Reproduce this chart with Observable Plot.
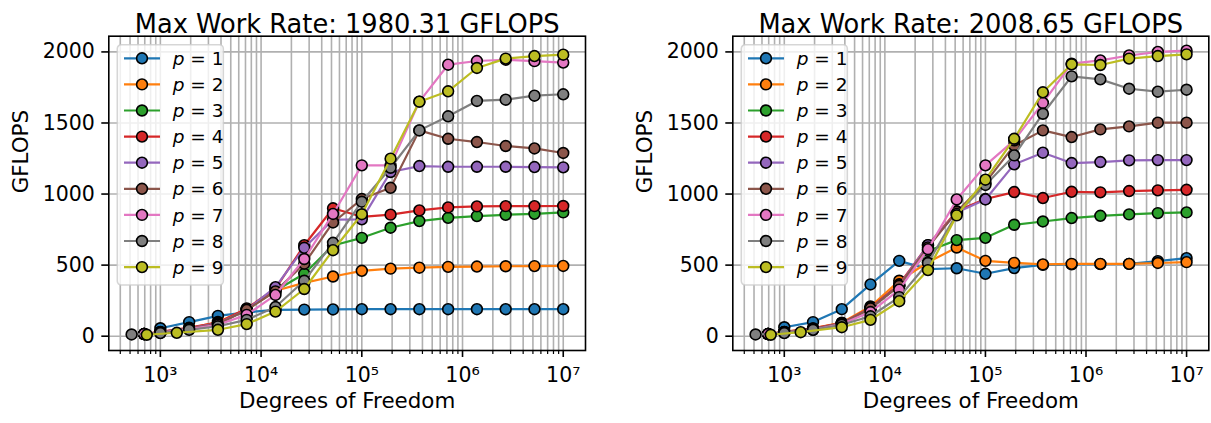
<!DOCTYPE html>
<html>
<head>
<meta charset="utf-8">
<script src="https://cdn.jsdelivr.net/npm/d3@7"></script>
<script src="https://cdn.jsdelivr.net/npm/@observablehq/plot@0.6"></script>
<style>
  body { margin: 0; background: #fff; }
  #fig { position: relative; width: 1211px; height: 423px; font-family: "DejaVu Sans", sans-serif; }
  #fig svg { position: absolute; top: 0; overflow: visible; }
  #fig svg [aria-label="x-axis tick label"], #fig svg [aria-label="y-axis tick label"] { font-size: 20.5px; }
</style>
</head>
<body>
<div id="fig"></div>
<script>
// Polynomial orders shown in the legend, with their line colours
const orders = [1, 2, 3, 4, 5, 6, 7, 8, 9];
const colors = ["#1f77b4", "#ff7f0e", "#2ca02c", "#d62728", "#9467bd", "#8c564b", "#e377c2", "#7f7f7f", "#bcbd22"];

// Degrees of freedom of the meshes (coarsest meshes depend on p)
const dofGrid = [1000, 1931, 3728, 7197, 13895, 26827, 51795, 100000, 193070, 372759, 719686, 1389495, 2682696, 5179475, 10000000];
const dofCoarse = [690, 1000, 1931, 3728, 7197, 13895, 26827, 51795, 100000, 193070, 372759, 719686, 1389495, 2682696, 5179475, 10000000];
const dofP8 = [518, 1000, 1931, 3728, 7197, 13895, 26827, 51795, 100000, 193070, 372759, 719686, 1389495, 2682696, 5179475, 10000000];
const dofP9 = [733, 1456, 3728, 7197, 13895, 26827, 51795, 100000, 193070, 372759, 719686, 1389495, 2682696, 5179475, 10000000];
const dofByOrder = [dofGrid, dofCoarse, dofCoarse, dofCoarse, dofCoarse, dofCoarse, dofCoarse, dofP8, dofP9];

// Work rate (GFLOPS), first run
const runA1 = [56, 99, 143, 168, 185, 187, 188, 190, 190, 190, 190, 190, 190, 190, 190];
const runA2 = [15, 28, 55, 100, 190, 320, 375, 420, 460, 475, 482, 488, 490, 492, 493, 494];
const runA3 = [15, 25, 50, 90, 185, 320, 439, 638, 692, 763, 810, 833, 845, 854, 861, 871];
const runA4 = [15, 30, 60, 95, 195, 335, 640, 900, 840, 855, 885, 906, 913, 915, 915, 916];
const runA5 = [15, 28, 55, 90, 185, 345, 622, 820, 822, 1155, 1197, 1192, 1192, 1192, 1190, 1188];
const runA6 = [15, 28, 55, 85, 185, 315, 510, 800, 965, 1044, 1448, 1389, 1366, 1338, 1321, 1289];
const runA7 = [15, 25, 50, 80, 150, 290, 543, 860, 1202, 1202, 1650, 1910, 1936, 1945, 1935, 1925];
const runA8 = [12, 22, 45, 70, 115, 205, 390, 657, 946, 1185, 1448, 1547, 1655, 1664, 1692, 1702];
const runA9 = [10, 24, 45, 85, 173, 332, 605, 858, 1249, 1650, 1723, 1887, 1953, 1971, 1980.31];

// Work rate (GFLOPS), second run
const runB1 = [63, 99, 190, 364, 530, 472, 478, 439, 479, 502, 505, 507, 509, 528, 549];
const runB2 = [15, 30, 55, 95, 209, 390, 520, 624, 530, 516, 505, 509, 509, 509, 515, 521];
const runB3 = [15, 28, 50, 90, 195, 355, 600, 676, 692, 784, 807, 831, 847, 857, 866, 871];
const runB4 = [15, 30, 55, 92, 200, 365, 640, 880, 965, 1014, 972, 1016, 1012, 1021, 1026, 1030];
const runB5 = [15, 28, 50, 90, 195, 355, 640, 870, 962, 1209, 1291, 1218, 1225, 1237, 1239, 1239];
const runB6 = [15, 28, 50, 90, 195, 355, 625, 875, 1080, 1342, 1448, 1401, 1455, 1476, 1502, 1502];
const runB7 = [15, 25, 45, 85, 170, 327, 612, 962, 1202, 1378, 1641, 1917, 1940, 1975, 2000, 2008.65];
const runB8 = [12, 22, 45, 80, 140, 275, 515, 860, 1064, 1272, 1565, 1828, 1807, 1741, 1720, 1734];
const runB9 = [10, 28, 63, 115, 246, 465, 850, 1101, 1389, 1716, 1913, 1908, 1953, 1971, 1983];

// Axis ticks
const xMajorTicks = [1e3, 1e4, 1e5, 1e6, 1e7];
const xTickLabels = ["10\u00b3", "10\u2074", "10\u2075", "10\u2076", "10\u2077"];
const yTicks = [0, 500, 1000, 1500, 2000];

const xDomain = [10 ** 2.488, 10 ** 7.221];
const yDomain = [-100.7, 2110.6];
const xMinorTicks = d3.scaleLog().domain(xDomain).ticks(40).filter(t => !xMajorTicks.includes(t));

function rowsFor(series) {
  return series.map((vals, i) => vals.map((g, j) => ({ dof: dofByOrder[i][j], gflops: g })));
}

function panel(series, opts) {
  const rows = rowsFor(series);
  const peak = d3.max(series.flat());
  const title = `Max Work Rate: ${peak.toFixed(2)} GFLOPS`;
  const gridStyle = { stroke: "#b0b0b0", strokeWidth: 1.6, strokeOpacity: 1 };

  const dataMarks = rows.flatMap((r, i) => [
    Plot.line(r, { x: "dof", y: "gflops", stroke: colors[i], strokeWidth: 2.2 }),
    Plot.dot(r, { x: "dof", y: "gflops", fill: colors[i], stroke: "black", strokeWidth: 1.6, r: 5.4 })
  ]);

  const chart = Plot.plot({
    width: opts.width,
    height: 423,
    marginLeft: opts.marginLeft,
    marginRight: opts.marginRight,
    marginTop: 35.7,
    marginBottom: 73,
    style: { fontFamily: "DejaVu Sans", fontSize: "20px", color: "black", background: "white", overflow: "visible" },
    x: { type: "log", domain: xDomain, axis: null },
    y: { domain: yDomain, axis: null },
    marks: [
      Plot.ruleX(xMinorTicks, gridStyle),
      Plot.ruleX(xMajorTicks, gridStyle),
      Plot.ruleY(yTicks, gridStyle),
      ...dataMarks,
      Plot.frame({ stroke: "black", strokeWidth: 1.6 }),
      Plot.axisX(xMinorTicks, { tickSize: 4, strokeWidth: 1.2, tickFormat: () => "", label: null }),
      Plot.axisX(xMajorTicks, {
        tickSize: 7, tickPadding: 10, strokeWidth: 1.6, label: null,
        tickFormat: d => xTickLabels[xMajorTicks.indexOf(d)]
      }),
      Plot.axisY(yTicks, {
        tickSize: 7, tickPadding: 7, strokeWidth: 1.6, label: null,
        tickFormat: d3.format("d")
      }),
      Plot.text([title], { text: d => d, frameAnchor: "top", dy: -21, fontSize: 25.7, fill: "black" }),
      Plot.text(["Degrees of Freedom"], { text: d => d, frameAnchor: "bottom", dy: 57, fontSize: 21.4, fill: "black" }),
      Plot.text(["GFLOPS"], { text: d => d, frameAnchor: "left", dx: -87.5, rotate: -90, fontSize: 21.4, fill: "black" })
    ]
  });
  chart.style.left = opts.left + "px";

  // Legend box in the upper-left corner of the axes
  const svg = d3.select(chart);
  const g = svg.append("g").attr("transform", `translate(${opts.marginLeft + 9},${35.7 + 9})`);
  g.append("rect")
    .attr("width", 106).attr("height", 240.3).attr("rx", 4)
    .attr("fill", "white").attr("fill-opacity", 0.8)
    .attr("stroke", "#cccccc").attr("stroke-opacity", 0.8).attr("stroke-width", 1.6);
  orders.forEach((p, i) => {
    const cy = 13.6 + 26.1 * i;
    g.append("line").attr("x1", 6.7).attr("x2", 42.7).attr("y1", cy).attr("y2", cy)
      .attr("stroke", colors[i]).attr("stroke-width", 2.2);
    g.append("circle").attr("cx", 24.7).attr("cy", cy).attr("r", 5.4)
      .attr("fill", colors[i]).attr("stroke", "black").attr("stroke-width", 1.6);
    const t = g.append("text").attr("x", 55.4).attr("y", cy).attr("dy", "0.36em")
      .attr("font-size", 18.5).attr("fill", "black").attr("text-anchor", "start");
    t.append("tspan").attr("font-style", "italic").text("p");
    t.append("tspan").text(` = ${p}`);
  });
  return chart;
}

const fig = document.getElementById("fig");
fig.appendChild(panel([runA1, runA2, runA3, runA4, runA5, runA6, runA7, runA8, runA9],
  { left: 0, width: 606, marginLeft: 108.3, marginRight: 21 }));
fig.appendChild(panel([runB1, runB2, runB3, runB4, runB5, runB6, runB7, runB8, runB9],
  { left: 606, width: 605, marginLeft: 126.3, marginRight: 2.7 }));
</script>
</body>
</html>
